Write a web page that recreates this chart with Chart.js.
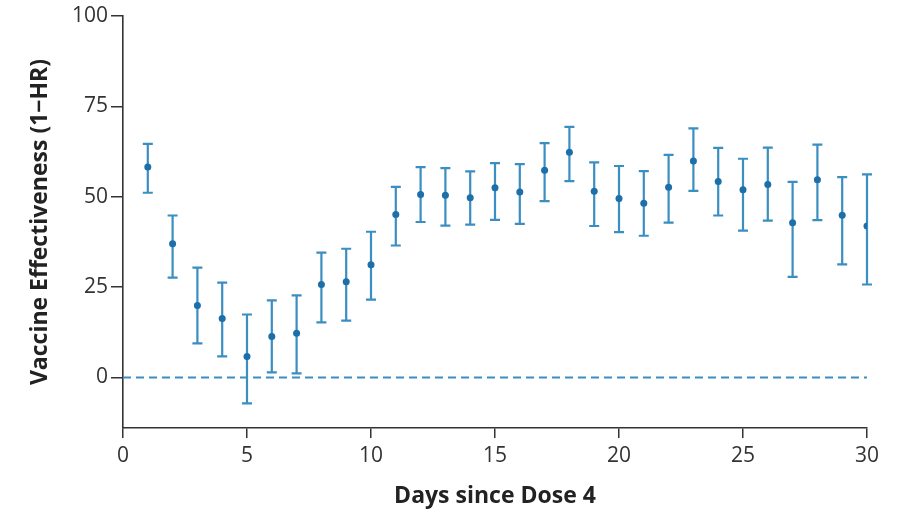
<!DOCTYPE html>
<html lang="en">
<head>
<meta charset="UTF-8">
<title>Vaccine Effectiveness</title>
<script src="https://cdn.jsdelivr.net/npm/chart.js"></script>
<style>
	html, body { margin: 0; padding: 0; background: #fff; }
	#wrap { width: 900px; height: 513px; }
</style>
</head>
<body>
<div id="wrap"><canvas id="canvas1" width="900" height="513"></canvas></div>

<script>
	// data
	const days = [1, 2, 3, 4, 5, 6, 7, 8, 9, 10, 11, 12, 13, 14, 15, 16, 17, 18, 19, 20, 21, 22, 23, 24, 25, 26, 27, 28, 29, 30];
	const ve = [58.2, 37.0, 19.9, 16.3, 5.8, 11.3, 12.2, 25.7, 26.5, 31.2, 45.1, 50.6, 50.4, 49.7, 52.5, 51.3, 57.3, 62.3, 51.5, 49.5, 48.2, 52.6, 59.9, 54.2, 51.9, 53.4, 42.8, 54.7, 44.9, 41.9];
	const upper = [64.6, 44.8, 30.4, 26.2, 17.4, 21.3, 22.7, 34.5, 35.6, 40.3, 52.7, 58.2, 57.9, 57.0, 59.3, 59.0, 64.8, 69.3, 59.5, 58.5, 57.1, 61.6, 68.9, 63.5, 60.5, 63.6, 54.1, 64.4, 55.4, 56.2];
	const lower = [51.1, 27.6, 9.4, 5.8, -7.2, 1.4, 1.1, 15.2, 15.7, 21.5, 36.5, 43.0, 42.0, 42.3, 43.6, 42.5, 48.8, 54.3, 41.9, 40.2, 39.2, 42.8, 51.6, 44.8, 40.6, 43.4, 27.8, 43.5, 31.3, 25.7];
	const yTicks = [0, 25, 50, 75, 100];

	const barColor = '#3a8ec2';
	const dotColor = '#1c6fa8';
	const axisColor = '#333333';

	// error bars drawn from the scales
	const errorBars = {
		id: 'errorBars',
		beforeDatasetsDraw(chart) {
			const { ctx, scales: { x, y } } = chart;
			ctx.save();
			ctx.strokeStyle = barColor;
			ctx.lineWidth = 2.2;
			days.forEach((d, i) => {
				const px = x.getPixelForValue(d);
				const top = y.getPixelForValue(upper[i]);
				const bot = y.getPixelForValue(lower[i]);
				ctx.beginPath();
				ctx.moveTo(px, top); ctx.lineTo(px, bot);
				ctx.moveTo(px - 5, top); ctx.lineTo(px + 5, top);
				ctx.moveTo(px - 5, bot); ctx.lineTo(px + 5, bot);
				ctx.stroke();
			});
			ctx.restore();
		}
	};

	const tickFont = { family: '"Open Sans", sans-serif', size: 21 };
	const titleFont = { family: '"Open Sans", "Noto Sans", sans-serif', size: 23, weight: 'bold' };

	const config = {
		type: 'line',
		data: {
			datasets: [
				{
					label: 'zero',
					data: [{ x: 0, y: 0 }, { x: 30, y: 0 }],
					borderColor: barColor,
					borderWidth: 2,
					borderDash: [8, 5],
					pointRadius: 0,
					fill: false
				},
				{
					label: 'VE',
					data: days.map((d, i) => ({ x: d, y: ve[i] })),
					showLine: false,
					pointRadius: 3.5,
					pointBackgroundColor: dotColor,
					pointBorderColor: dotColor,
					pointBorderWidth: 0
				}
			]
		},
		options: {
			responsive: false,
			animation: false,
			layout: { padding: { top: 16, right: 33, left: 0, bottom: 0 } },
			plugins: {
				legend: { display: false },
				tooltip: { enabled: false }
			},
			scales: {
				x: {
					type: 'linear',
					min: 0,
					max: 30,
					afterFit: s => { s.height = 85; },
					ticks: { stepSize: 5, color: axisColor, font: tickFont, padding: 5 },
					grid: { drawOnChartArea: false, drawTicks: true, tickLength: 10, color: axisColor, lineWidth: 1.5 },
					border: { display: true, color: axisColor, width: 1.6 },
					title: { display: true, text: 'Days since Dose 4', color: '#222', font: titleFont, padding: { top: 0, bottom: 3 } }
				},
				y: {
					type: 'linear',
					min: -14,
					max: 100,
					afterFit: s => { s.width = 123; },
					afterBuildTicks: s => { s.ticks = yTicks.map(v => ({ value: v })); },
					ticks: { color: axisColor, font: tickFont, padding: 3 },
					grid: { drawOnChartArea: false, drawTicks: true, tickLength: 12, color: axisColor, lineWidth: 1.5 },
					border: { display: true, color: axisColor, width: 1.6 },
					title: { display: true, text: 'Vaccine Effectiveness (1\u2212HR)', color: '#222', font: titleFont, padding: { top: 27, bottom: 0 } }
				}
			}
		},
		plugins: [errorBars]
	};

	const resultChart = new Chart(document.getElementById('canvas1').getContext('2d'), config);
</script>
</body>
</html>
